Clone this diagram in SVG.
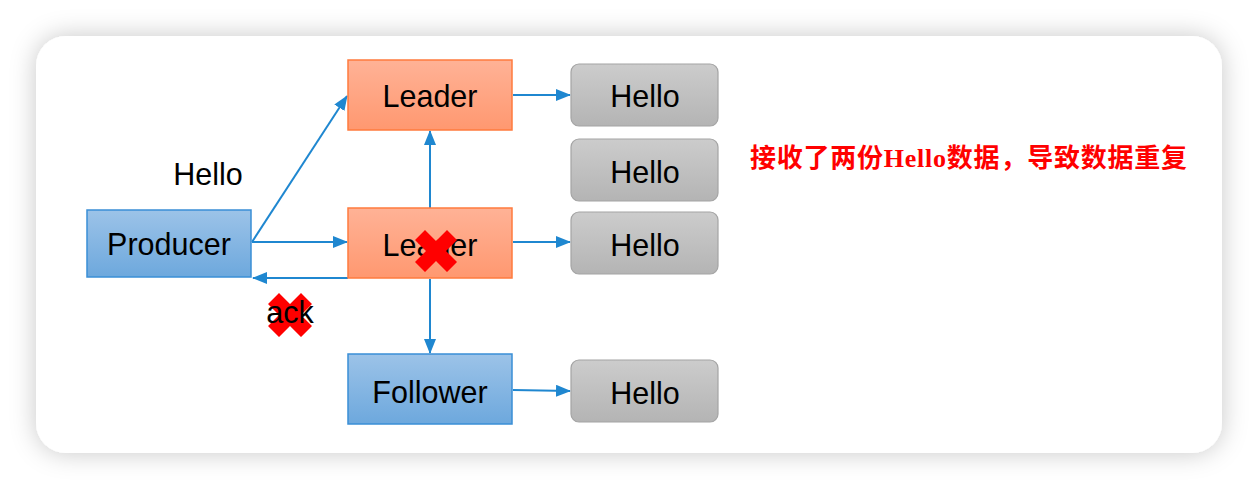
<svg xmlns="http://www.w3.org/2000/svg" width="1258" height="490" viewBox="0 0 1258 490">
<defs>
<filter id="sh" x="-10%" y="-20%" width="120%" height="140%">
<feDropShadow dx="0" dy="0" stdDeviation="13" flood-color="#000" flood-opacity="0.22"/>
</filter>
<linearGradient id="gOr" x1="0" y1="0" x2="0" y2="1"><stop offset="0" stop-color="#ffb296"/><stop offset="1" stop-color="#ff9870"/></linearGradient>
<linearGradient id="gBl" x1="0" y1="0" x2="0" y2="1"><stop offset="0" stop-color="#9cc3e8"/><stop offset="1" stop-color="#6da8dd"/></linearGradient>
<linearGradient id="gGr" x1="0" y1="0" x2="0" y2="1"><stop offset="0" stop-color="#cccccc"/><stop offset="1" stop-color="#b4b4b4"/></linearGradient>
<marker id="ar" markerWidth="15" markerHeight="12" refX="14" refY="6" orient="auto" markerUnits="userSpaceOnUse">
<path d="M0,0 L15,6 L0,12 Z" fill="#1f87d0"/>
</marker>
</defs>
<style>
.or{fill:url(#gOr);stroke:#ff7b3e;stroke-width:1.5}
.bl{fill:url(#gBl);stroke:#3a8fd6;stroke-width:1.5}
.gr{fill:url(#gGr);stroke:#a4a4a4;stroke-width:1.2}
.t{font-family:"Liberation Sans",Arial,sans-serif;font-size:30.5px;fill:#000;text-anchor:middle}
.c{fill:none;stroke:#1f87d0;stroke-width:2;marker-end:url(#ar)}
.x{fill:#ff0000}
</style>
<rect x="0" y="0" width="1258" height="490" fill="#ffffff"/>
<rect x="36" y="36" width="1186" height="417" rx="30" fill="#ffffff" filter="url(#sh)"/>

<g id="connectors">
<line class="c" x1="252" y1="242" x2="347" y2="96"/>
<line class="c" x1="252" y1="242" x2="347" y2="242"/>
<line class="c" x1="348" y1="278" x2="253" y2="278"/>
<line class="c" x1="430" y1="208" x2="430" y2="131"/>
<line class="c" x1="430" y1="279" x2="430" y2="353"/>
<line class="c" x1="513" y1="95" x2="570" y2="95"/>
<line class="c" x1="513" y1="242" x2="570" y2="242"/>
<line class="c" x1="513" y1="390" x2="570" y2="391"/>
</g>

<g id="producer">
<rect class="bl" x="87" y="210" width="164" height="67"/>
<text class="t" x="169" y="255">Producer</text>
</g>
<g id="leader-top">
<rect class="or" x="348" y="60" width="164" height="70"/>
<text class="t" x="430" y="107">Leader</text>
</g>
<g id="leader-mid">
<rect class="or" x="348" y="208" width="164" height="70"/>
<text class="t" x="430" y="256">Leader</text>
</g>
<g id="follower">
<rect class="bl" x="348" y="354" width="164" height="70"/>
<text class="t" x="430" y="403">Follower</text>
</g>
<g id="hello-1">
<rect class="gr" x="571" y="64" width="147" height="62" rx="8"/>
<text class="t" x="645" y="107">Hello</text>
</g>
<g id="hello-2">
<rect class="gr" x="571" y="139" width="147" height="62" rx="8"/>
<text class="t" x="645" y="183">Hello</text>
</g>
<g id="hello-3">
<rect class="gr" x="571" y="212" width="147" height="62" rx="8"/>
<text class="t" x="645" y="256">Hello</text>
</g>
<g id="hello-4">
<rect class="gr" x="571" y="360" width="147" height="62" rx="8"/>
<text class="t" x="645" y="404">Hello</text>
</g>

<g id="hello-label">
<text class="t" x="208" y="185">Hello</text>
</g>

<g id="x-leader">
<path class="x" transform="translate(436,251)" d="M-21,-11 L-11,-21 L0,-10 L11,-21 L21,-11 L10,0 L21,11 L11,21 L0,10 L-11,21 L-21,11 L-10,0 Z"/>
</g>

<g id="ack">
<path class="x" transform="translate(290,315)" d="M-22,-11 L-11,-22 L0,-11 L11,-22 L22,-11 L11,0 L22,11 L11,22 L0,11 L-11,22 L-22,11 L-11,0 Z"/>
<text class="t" x="290" y="323">ack</text>
</g>

<g id="note">
<text x="750" y="167" font-family="'Liberation Serif','Noto Sans CJK SC',serif" font-size="26" font-weight="bold" fill="#ff0000" textLength="437" lengthAdjust="spacing">接收了两份Hello数据，导致数据重复</text>
</g>
</svg>
